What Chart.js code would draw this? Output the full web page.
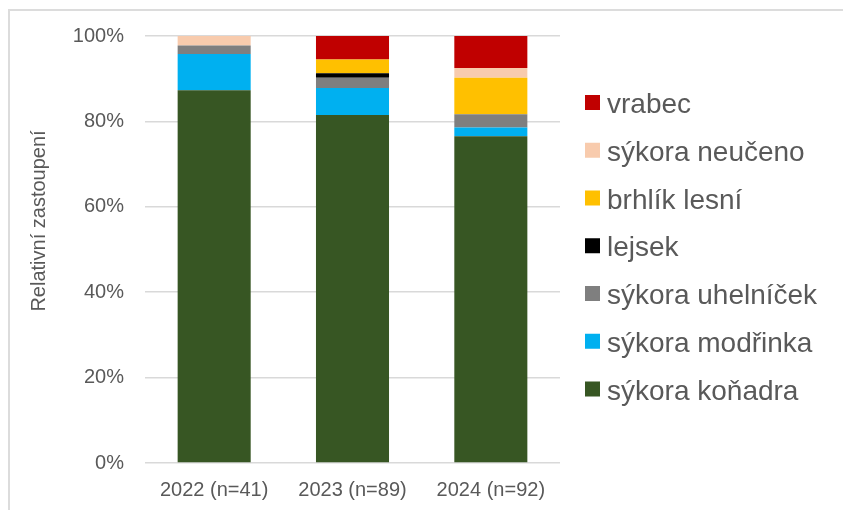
<!DOCTYPE html>
<html lang="cs">
<head>
    <meta charset="UTF-8">
    <title>Relativní zastoupení</title>
    <style>
        body {
            margin: 0;
            background: #fff;
            overflow: hidden;
        }
        #ramecek {
            position: absolute;
            left: 8px;
            top: 9px;
            width: 900px;
            height: 600px;
            border: 2px solid #dcdcdc;
        }
        #graf {
            position: absolute;
            left: 0;
            top: 0;
        }
    </style>
    <script src="https://cdn.jsdelivr.net/npm/chart.js"></script>
</head>
<body>
<div id="ramecek"></div>
<canvas id="graf" width="843" height="510"></canvas>

<script>
// data (% z celkového počtu)
const roky = ['2022 (n=41)', '2023 (n=89)', '2024 (n=92)'];
const konadra   = [87.3, 81.5, 76.5];
const modrinka  = [8.5, 6.3, 2.1];
const uhelnicek = [2.0, 2.4, 3.1];
const lejsek    = [0, 1.1, 0];
const brhlik    = [0, 3.2, 8.5];
const neuceno   = [2.2, 0, 2.3];
const vrabec    = [0, 5.5, 7.5];
const yTicks = [0, 20, 40, 60, 80, 100];

const font = 'Liberation Sans, Arial, sans-serif';
const sedaText = '#595959';

const druhy = [
    { label: 'sýkora koňadra', data: konadra, color: '#375623' },
    { label: 'sýkora modřinka', data: modrinka, color: '#00B0F0' },
    { label: 'sýkora uhelníček', data: uhelnicek, color: '#7F7F7F' },
    { label: 'lejsek', data: lejsek, color: '#000000' },
    { label: 'brhlík lesní', data: brhlik, color: '#FFC000' },
    { label: 'sýkora neučeno', data: neuceno, color: '#F8CBAD' },
    { label: 'vrabec', data: vrabec, color: '#C00000' }
];

// legenda a popisek osy Y kreslené ručně
const doplnky = {
    id: 'doplnky',
    afterDraw(chart) {
        const ctx = chart.ctx;
        ctx.save();
        // popisek osy
        ctx.fillStyle = sedaText;
        ctx.font = '20px ' + font;
        ctx.textAlign = 'center';
        ctx.textBaseline = 'middle';
        ctx.translate(39, 221);
        ctx.rotate(-Math.PI / 2);
        ctx.fillText('Relativní zastoupení', 0, 0);
        ctx.restore();

        ctx.save();
        ctx.font = '28px ' + font;
        ctx.textAlign = 'left';
        ctx.textBaseline = 'alphabetic';
        const ds = chart.data.datasets.slice().reverse();
        ds.forEach((d, i) => {
            const cy = 102.5 + i * 47.75;
            ctx.fillStyle = d.backgroundColor;
            ctx.fillRect(585, cy - 7.5, 15, 15);
            ctx.fillStyle = sedaText;
            ctx.fillText(d.label, 607, cy + 10.5);
        });
        ctx.restore();
    }
};

const ctx = document.getElementById('graf').getContext('2d');
new Chart(ctx, {
    type: 'bar',
    data: {
        labels: roky,
        datasets: druhy.map(d => ({
            label: d.label,
            data: d.data,
            backgroundColor: d.color,
            borderWidth: 0,
            barPercentage: 0.528,
            categoryPercentage: 1
        }))
    },
    options: {
        responsive: false,
        animation: false,
        devicePixelRatio: 1,
        layout: {
            padding: { left: 0, right: 283, top: 36, bottom: 0 }
        },
        plugins: {
            legend: { display: false },
            tooltip: { enabled: false }
        },
        scales: {
            x: {
                stacked: true,
                afterFit: s => { s.height = 47; },
                grid: { display: false, drawTicks: false },
                border: { display: false },
                ticks: {
                    color: sedaText,
                    padding: 15,
                    font: { family: font, size: 20 }
                }
            },
            y: {
                stacked: true,
                min: 0,
                max: 100,
                afterFit: s => { s.width = 145; },
                afterBuildTicks: s => { s.ticks = yTicks.map(v => ({ value: v })); },
                grid: { color: '#D9D9D9', lineWidth: 1.5, drawTicks: false },
                border: { display: false },
                ticks: {
                    color: sedaText,
                    padding: 21,
                    font: { family: font, size: 20 },
                    callback: v => v + '%'
                }
            }
        }
    },
    plugins: [doplnky]
});
</script>
</body>
</html>
